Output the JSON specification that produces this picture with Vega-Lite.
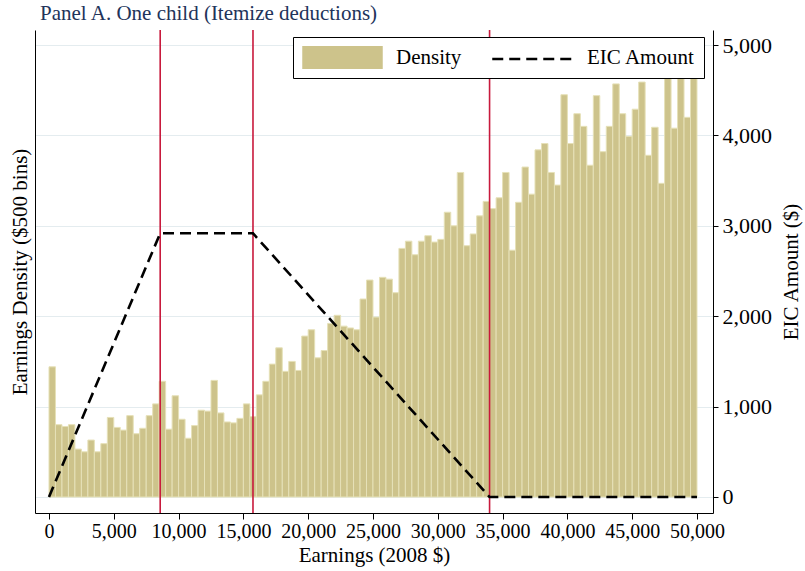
{
  "$schema": "https://vega.github.io/schema/vega-lite/v6.json",
  "width": 678,
  "height": 483,
  "autosize": {"type": "none"},
  "padding": {"left": 35, "top": 30, "right": 92, "bottom": 58},
  "background": "white",
  "config": {
    "view": {"stroke": null},
    "font": "Liberation Serif",
    "axis": {
      "labelFont": "Liberation Serif",
      "titleFont": "Liberation Serif",
      "labelFontSize": 20,
      "titleFontSize": 21,
      "titleFontWeight": "normal",
      "labelColor": "black",
      "titleColor": "black",
      "domainColor": "black",
      "domainWidth": 1,
      "tickColor": "black",
      "tickWidth": 1,
      "gridColor": "#e4ecef",
      "gridWidth": 1.2
    }
  },
  "title": {
    "text": "Panel A. One child (Itemize deductions)",
    "anchor": "start",
    "frame": "group",
    "dx": 5,
    "offset": 5,
    "font": "Liberation Serif",
    "fontSize": 21,
    "fontWeight": "normal",
    "color": "#22335a"
  },
  "datasets": {
    "bins": [
      {"lo": 0, "hi": 500, "density": 1.44},
      {"lo": 500, "hi": 1000, "density": 0.80},
      {"lo": 1000, "hi": 1500, "density": 0.78},
      {"lo": 1500, "hi": 2000, "density": 0.80},
      {"lo": 2000, "hi": 2500, "density": 0.53},
      {"lo": 2500, "hi": 3000, "density": 0.50},
      {"lo": 3000, "hi": 3500, "density": 0.63},
      {"lo": 3500, "hi": 4000, "density": 0.50},
      {"lo": 4000, "hi": 4500, "density": 0.59},
      {"lo": 4500, "hi": 5000, "density": 0.88},
      {"lo": 5000, "hi": 5500, "density": 0.77},
      {"lo": 5500, "hi": 6000, "density": 0.74},
      {"lo": 6000, "hi": 6500, "density": 0.90},
      {"lo": 6500, "hi": 7000, "density": 0.70},
      {"lo": 7000, "hi": 7500, "density": 0.76},
      {"lo": 7500, "hi": 8000, "density": 0.90},
      {"lo": 8000, "hi": 8500, "density": 1.03},
      {"lo": 8500, "hi": 9000, "density": 1.28},
      {"lo": 9000, "hi": 9500, "density": 0.75},
      {"lo": 9500, "hi": 10000, "density": 1.12},
      {"lo": 10000, "hi": 10500, "density": 0.86},
      {"lo": 10500, "hi": 11000, "density": 0.65},
      {"lo": 11000, "hi": 11500, "density": 0.79},
      {"lo": 11500, "hi": 12000, "density": 0.96},
      {"lo": 12000, "hi": 12500, "density": 0.95},
      {"lo": 12500, "hi": 13000, "density": 1.29},
      {"lo": 13000, "hi": 13500, "density": 0.93},
      {"lo": 13500, "hi": 14000, "density": 0.83},
      {"lo": 14000, "hi": 14500, "density": 0.82},
      {"lo": 14500, "hi": 15000, "density": 0.87},
      {"lo": 15000, "hi": 15500, "density": 1.03},
      {"lo": 15500, "hi": 16000, "density": 0.89},
      {"lo": 16000, "hi": 16500, "density": 1.13},
      {"lo": 16500, "hi": 17000, "density": 1.28},
      {"lo": 17000, "hi": 17500, "density": 1.47},
      {"lo": 17500, "hi": 18000, "density": 1.65},
      {"lo": 18000, "hi": 18500, "density": 1.39},
      {"lo": 18500, "hi": 19000, "density": 1.50},
      {"lo": 19000, "hi": 19500, "density": 1.40},
      {"lo": 19500, "hi": 20000, "density": 1.78},
      {"lo": 20000, "hi": 20500, "density": 1.85},
      {"lo": 20500, "hi": 21000, "density": 1.54},
      {"lo": 21000, "hi": 21500, "density": 1.62},
      {"lo": 21500, "hi": 22000, "density": 1.92},
      {"lo": 22000, "hi": 22500, "density": 2.01},
      {"lo": 22500, "hi": 23000, "density": 1.89},
      {"lo": 23000, "hi": 23500, "density": 1.87},
      {"lo": 23500, "hi": 24000, "density": 1.85},
      {"lo": 24000, "hi": 24500, "density": 2.19},
      {"lo": 24500, "hi": 25000, "density": 2.40},
      {"lo": 25000, "hi": 25500, "density": 1.99},
      {"lo": 25500, "hi": 26000, "density": 2.43},
      {"lo": 26000, "hi": 26500, "density": 2.41},
      {"lo": 26500, "hi": 27000, "density": 2.26},
      {"lo": 27000, "hi": 27500, "density": 2.75},
      {"lo": 27500, "hi": 28000, "density": 2.83},
      {"lo": 28000, "hi": 28500, "density": 2.68},
      {"lo": 28500, "hi": 29000, "density": 2.83},
      {"lo": 29000, "hi": 29500, "density": 2.89},
      {"lo": 29500, "hi": 30000, "density": 2.82},
      {"lo": 30000, "hi": 30500, "density": 2.85},
      {"lo": 30500, "hi": 31000, "density": 3.15},
      {"lo": 31000, "hi": 31500, "density": 3.00},
      {"lo": 31500, "hi": 32000, "density": 3.59},
      {"lo": 32000, "hi": 32500, "density": 2.78},
      {"lo": 32500, "hi": 33000, "density": 2.91},
      {"lo": 33000, "hi": 33500, "density": 3.11},
      {"lo": 33500, "hi": 34000, "density": 3.27},
      {"lo": 34000, "hi": 34500, "density": 3.19},
      {"lo": 34500, "hi": 35000, "density": 3.31},
      {"lo": 35000, "hi": 35500, "density": 3.59},
      {"lo": 35500, "hi": 36000, "density": 2.73},
      {"lo": 36000, "hi": 36500, "density": 3.26},
      {"lo": 36500, "hi": 37000, "density": 3.65},
      {"lo": 37000, "hi": 37500, "density": 3.35},
      {"lo": 37500, "hi": 38000, "density": 3.84},
      {"lo": 38000, "hi": 38500, "density": 3.91},
      {"lo": 38500, "hi": 39000, "density": 3.59},
      {"lo": 39000, "hi": 39500, "density": 3.45},
      {"lo": 39500, "hi": 40000, "density": 4.45},
      {"lo": 40000, "hi": 40500, "density": 3.91},
      {"lo": 40500, "hi": 41000, "density": 4.24},
      {"lo": 41000, "hi": 41500, "density": 4.10},
      {"lo": 41500, "hi": 42000, "density": 3.67},
      {"lo": 42000, "hi": 42500, "density": 4.44},
      {"lo": 42500, "hi": 43000, "density": 3.82},
      {"lo": 43000, "hi": 43500, "density": 4.10},
      {"lo": 43500, "hi": 44000, "density": 4.57},
      {"lo": 44000, "hi": 44500, "density": 4.24},
      {"lo": 44500, "hi": 45000, "density": 3.99},
      {"lo": 45000, "hi": 45500, "density": 4.29},
      {"lo": 45500, "hi": 46000, "density": 4.59},
      {"lo": 46000, "hi": 46500, "density": 3.78},
      {"lo": 46500, "hi": 47000, "density": 4.09},
      {"lo": 47000, "hi": 47500, "density": 3.47},
      {"lo": 47500, "hi": 48000, "density": 4.85},
      {"lo": 48000, "hi": 48500, "density": 4.08},
      {"lo": 48500, "hi": 49000, "density": 5.05},
      {"lo": 49000, "hi": 49500, "density": 4.20},
      {"lo": 49500, "hi": 50000, "density": 4.90}
    ],
    "kinks": [
      {"earnings": 8580},
      {"earnings": 15740},
      {"earnings": 33995}
    ],
    "schedule": [
      {"earnings": 0, "eic": 0},
      {"earnings": 8580, "eic": 2917},
      {"earnings": 15740, "eic": 2917},
      {"earnings": 33995, "eic": 0},
      {"earnings": 50000, "eic": 0}
    ]
  },
  "layer": [
    {
      "data": {"name": "bins"},
      "mark": {"type": "bar", "stroke": "#e6e1b8", "strokeWidth": 1},
      "encoding": {
        "x": {
          "field": "lo",
          "type": "quantitative",
          "scale": {"domain": [-1080, 51235], "nice": false, "zero": false},
          "axis": {
            "values": [0, 5000, 10000, 15000, 20000, 25000, 30000, 35000, 40000, 45000, 50000],
            "format": ",.0f",
            "title": "Earnings (2008 $)",
            "grid": false,
            "tickSize": 6,
            "labelPadding": 2,
            "titlePadding": 3,
            "labelOverlap": false
          }
        },
        "x2": {"field": "hi"},
        "y": {
          "field": "density",
          "type": "quantitative",
          "scale": {"domain": [-0.177, 5.166], "nice": false, "zero": false},
          "axis": {
            "orient": "left",
            "labels": false,
            "ticks": false,
            "grid": false,
            "title": "Earnings Density ($500 bins)",
            "titlePadding": 5
          }
        },
        "y2": {"datum": 0},
        "color": {
          "datum": "Density",
          "type": "nominal",
          "scale": {"domain": ["Density", "EIC Amount"], "range": ["#cdc38b", "#ffffff"]},
          "legend": {
            "orient": "none",
            "legendX": 258,
            "legendY": 7,
            "direction": "horizontal",
            "columns": 2,
            "title": null,
            "padding": 9,
            "fillColor": "white",
            "strokeColor": "black",
            "labelFont": "Liberation Serif",
            "labelFontSize": 21,
            "labelColor": "black",
            "symbolType": "M-3.5,-1H3.5V1H-3.5Z",
            "symbolSize": 529,
            "symbolStrokeWidth": 0,
            "symbolOffset": 29,
            "labelOffset": 42,
            "columnPadding": 31
          }
        }
      }
    },
    {
      "data": {"name": "kinks"},
      "mark": {"type": "rule", "color": "#c8193c", "strokeWidth": 1.6},
      "encoding": {
        "x": {"field": "earnings", "type": "quantitative"}
      }
    },
    {
      "data": {"name": "schedule"},
      "mark": {"type": "line", "color": "#000000", "strokeWidth": 2.6, "strokeCap": "butt"},
      "encoding": {
        "x": {"field": "earnings", "type": "quantitative"},
        "y": {
          "field": "eic",
          "type": "quantitative",
          "scale": {"domain": [-177, 5166], "nice": false, "zero": false},
          "axis": {
            "orient": "right",
            "values": [0, 1000, 2000, 3000, 4000, 5000],
            "format": ",.0f",
            "grid": true,
            "tickSize": 5,
            "labelPadding": 4,
            "labelFontSize": 22,
            "title": "EIC Amount ($)",
            "titleAngle": 270,
            "titlePadding": 30
          }
        },
        "strokeDash": {
          "datum": "EIC Amount",
          "type": "nominal",
          "scale": {"domain": ["EIC Amount"], "range": [[11, 6]]},
          "legend": {
            "orient": "none",
            "legendX": 484.5,
            "legendY": 16,
            "zindex": 1,
            "title": null,
            "padding": 0,
            "labelExpr": "''",
            "labelFont": "Liberation Serif",
            "labelFontSize": 21,
            "symbolType": "M-3.5,0H3.5",
            "symbolSize": 529,
            "symbolStrokeColor": "#000000",
            "symbolStrokeWidth": 2.5,
            "symbolOffset": 0
          }
        }
      }
    }
  ],
  "resolve": {"scale": {"y": "independent"}}
}
